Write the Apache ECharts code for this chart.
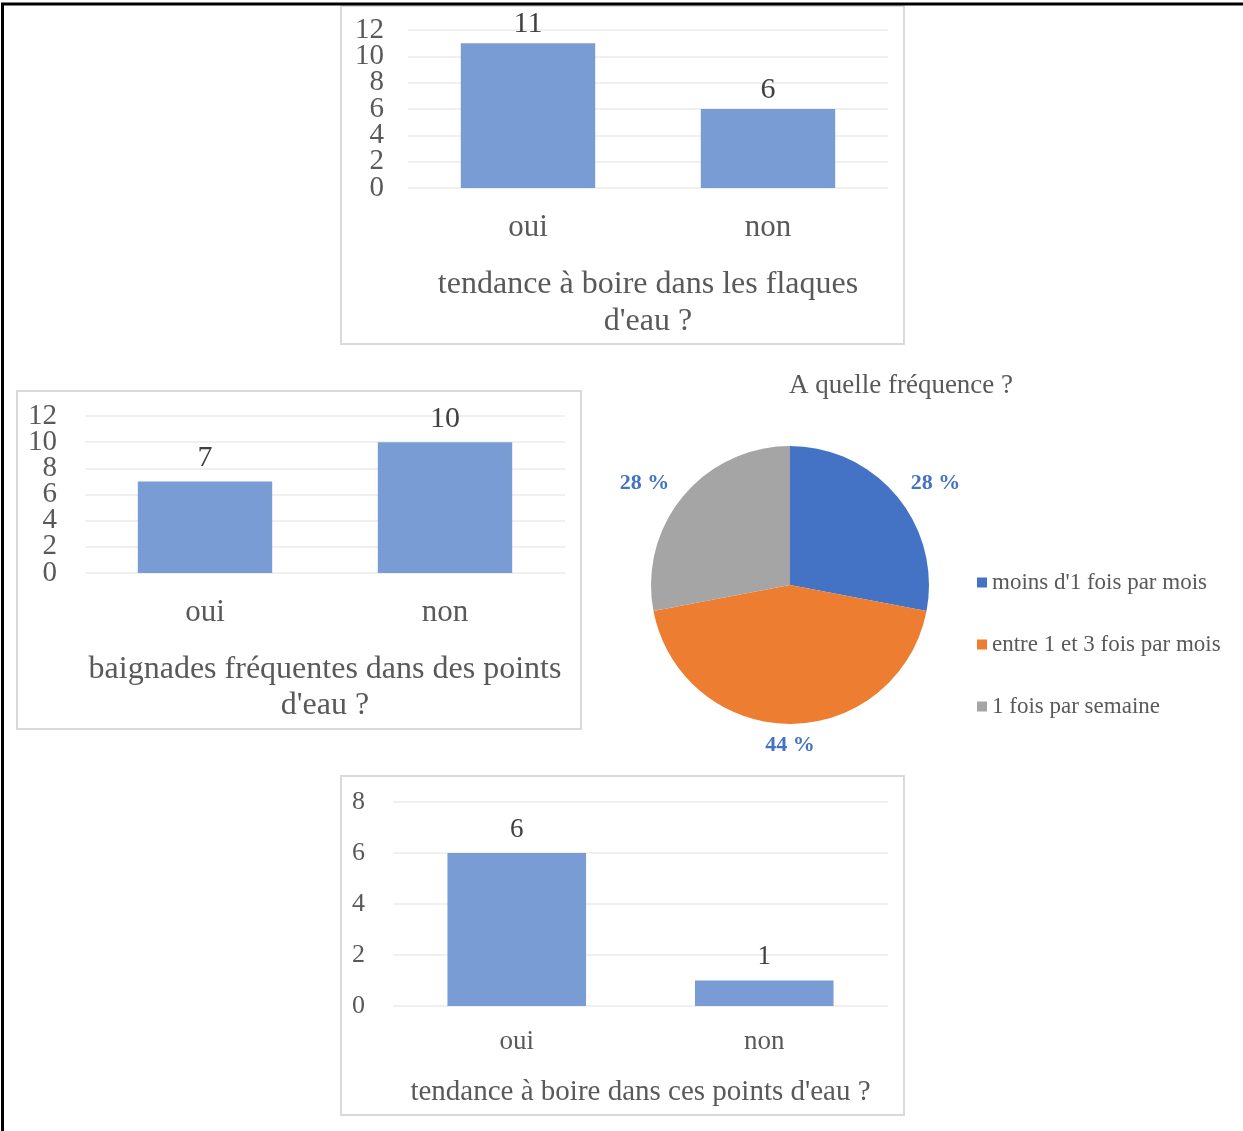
<!DOCTYPE html>
<html>
<head>
<meta charset="utf-8">
<script src="https://cdn.jsdelivr.net/npm/echarts@6/dist/echarts.min.js"></script>
<style>
  html, body { margin: 0; padding: 0; background: #ffffff; }
  #chart { width: 1243px; height: 1131px; }
</style>
</head>
<body>
<div id="chart"></div>
<script>
// Survey answers (counts) and frequency breakdown (percent)
const flaquesCategories = ['oui', 'non'];
const flaquesValues = [11, 6];
const flaquesTitle = "tendance à boire dans les flaques\nd'eau ?";

const baignadeCategories = ['oui', 'non'];
const baignadeValues = [7, 10];
const baignadeTitle = "baignades fréquentes dans des points\nd'eau ?";

const pointsEauCategories = ['oui', 'non'];
const pointsEauValues = [6, 1];
const pointsEauTitle = "tendance à boire dans ces points d'eau ?";

const frequenceTitle = 'A quelle fréquence ?';
const frequenceLabels = ["moins d'1 fois par mois", 'entre 1 et 3 fois par mois', '1 fois par semaine'];
const frequencePercents = [28, 44, 28];

const SERIF = "'Liberation Serif', 'Times New Roman', serif";
const TEXT = '#595959';
const VALUE_TEXT = '#404040';
const BAR_COLOR = '#7A9CD5';
const GRID_LINE = '#ebebeb';
const PIE_COLORS = ['#4472C4', '#ED7D31', '#A5A5A5'];
const PIE_CENTER = [790, 585];
const PIE_RADIUS = 139;

const grids = [], xAxes = [], yAxes = [], series = [];

function addBarPanel(rect, cats, values, title, yMax, f) {
  const i = grids.length;
  grids.push({ left: rect.left, top: rect.top, width: rect.width, height: rect.height,
               containLabel: false, outerBoundsMode: 'none' });
  xAxes.push({
    type: 'category', gridIndex: i, data: cats,
    axisLine: { show: false }, axisTick: { show: false },
    axisLabel: { color: TEXT, fontFamily: SERIF, fontSize: f.cat, margin: f.catMargin },
    name: title, nameLocation: 'middle', nameGap: f.nameGap,
    nameTextStyle: { color: TEXT, fontFamily: SERIF, fontSize: f.title, lineHeight: f.titleLH }
  });
  const tickStyle = { color: TEXT, fontFamily: SERIF, fontSize: f.tick, margin: f.tickMargin,
                      hideOverlap: false };
  // The tick labels sit very close together, so they are split over two
  // superposed value axes sharing the same scale: multiples of 4 on one,
  // the remaining even values on the other (which also draws the grid lines).
  const yMain = yAxes.length;
  yAxes.push({
    type: 'value', gridIndex: i, position: 'left', offset: 0, min: 0, max: yMax, interval: 2,
    axisLine: { show: false }, axisTick: { show: false },
    axisLabel: Object.assign({}, tickStyle, {
      showMinLabel: false, showMaxLabel: false,
      formatter: v => (v % 4 === 2 ? String(v) : '')
    }),
    splitLine: { show: true, lineStyle: { color: GRID_LINE, width: 1.5 } }
  });
  yAxes.push({
    type: 'value', gridIndex: i, position: 'left', offset: 0, min: 0, max: yMax, interval: 4,
    axisLine: { show: false }, axisTick: { show: false },
    axisLabel: Object.assign({}, tickStyle, { showMinLabel: true, showMaxLabel: true }),
    splitLine: { show: false }
  });
  series.push({
    type: 'bar', xAxisIndex: i, yAxisIndex: yMain, data: values, barWidth: '56%',
    itemStyle: { color: BAR_COLOR },
    label: { show: true, position: 'top', distance: f.valueDist, color: VALUE_TEXT,
             fontFamily: SERIF, fontSize: f.value },
    emphasis: { disabled: true }, animation: false
  });
}

addBarPanel({ left: 408, top: 30, width: 480, height: 158 },
  flaquesCategories, flaquesValues, flaquesTitle, 12,
  { tick: 29, tickMargin: 24, cat: 31, catMargin: 24, value: 30, valueDist: 4,
    title: 32, titleLH: 37, nameGap: 78 });

addBarPanel({ left: 85, top: 416, width: 480, height: 157 },
  baignadeCategories, baignadeValues, baignadeTitle, 12,
  { tick: 29, tickMargin: 28, cat: 31, catMargin: 24, value: 30, valueDist: 8,
    title: 32, titleLH: 36, nameGap: 79 });

addBarPanel({ left: 393, top: 802, width: 495, height: 204 },
  pointsEauCategories, pointsEauValues, pointsEauTitle, 8,
  { tick: 26, tickMargin: 28, cat: 27, catMargin: 22, value: 27, valueDist: 10,
    title: 29, titleLH: 32, nameGap: 70 });

const pieData = frequenceLabels.map((name, k) => ({
  name: name, value: frequencePercents[k], itemStyle: { color: PIE_COLORS[k] }
}));

// filled pie
series.push({
  type: 'pie', center: PIE_CENTER, radius: PIE_RADIUS, startAngle: 90, clockwise: true,
  data: pieData, label: { show: false }, labelLine: { show: false },
  itemStyle: { borderWidth: 0 }, emphasis: { disabled: true }, animation: false
});
// transparent ring carrying the percentage labels just outside the pie;
// labels on the sides are spread a little further out horizontally
series.push({
  type: 'pie', center: PIE_CENTER, radius: [PIE_RADIUS, 175], startAngle: 90, clockwise: true,
  silent: true, legendHoverLink: false,
  data: frequenceLabels.map((name, k) => ({
    name: name, value: frequencePercents[k], itemStyle: { color: 'rgba(0,0,0,0)' }
  })),
  itemStyle: { borderWidth: 0 },
  label: { show: true, position: 'inside', formatter: '{c} %', color: '#4472C4',
           fontFamily: SERIF, fontSize: 22, fontWeight: 'bold' },
  labelLayout: function (p) {
    const mid = p.labelRect.x + p.labelRect.width / 2;
    return { dx: (mid - PIE_CENTER[0]) * 0.18 };
  },
  labelLine: { show: false }, emphasis: { disabled: true }, animation: false
});

const frameStyle = { fill: 'none', stroke: '#d9d9d9', lineWidth: 2 };

const option = {
  backgroundColor: '#ffffff',
  animation: false,
  title: {
    text: frequenceTitle, left: 901, top: 372, textAlign: 'center', padding: 0,
    textStyle: { color: TEXT, fontFamily: SERIF, fontSize: 27, fontWeight: 'normal' }
  },
  legend: {
    data: frequenceLabels, orient: 'vertical', left: 977, top: 571, padding: 0,
    icon: 'rect', itemWidth: 10, itemHeight: 10, itemGap: 39,
    textStyle: { color: TEXT, fontFamily: SERIF, fontSize: 23, lineHeight: 23 },
    selectedMode: false
  },
  grid: grids, xAxis: xAxes, yAxis: yAxes, series: series,
  graphic: [
    { type: 'rect', shape: { x: 341, y: 6, width: 563, height: 338 }, style: frameStyle, silent: true },
    { type: 'rect', shape: { x: 17, y: 391, width: 564, height: 338 }, style: frameStyle, silent: true },
    { type: 'rect', shape: { x: 341, y: 776, width: 563, height: 339 }, style: frameStyle, silent: true },
    { type: 'polyline', shape: { points: [[2.5, 1131], [2.5, 4], [1243, 4]] },
      style: { fill: 'none', stroke: '#000000', lineWidth: 3 }, silent: true }
  ]
};

const chart = echarts.init(document.getElementById('chart'), null, { renderer: 'canvas' });
chart.setOption(option);
</script>
</body>
</html>
